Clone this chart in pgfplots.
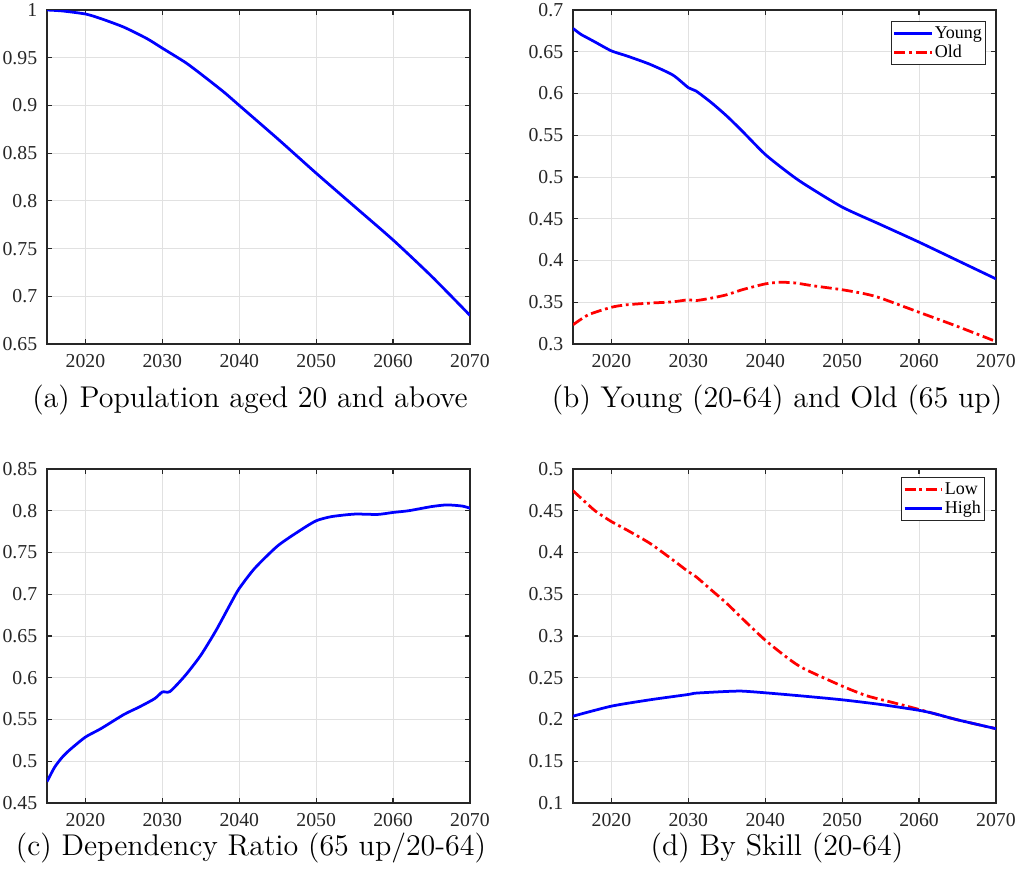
\documentclass[border=0pt]{standalone}
\usepackage{pgfplots}
\pgfplotsset{compat=1.18}
\usepackage{fontspec}
\newfontfamily\tnr{Liberation Serif}
\newcommand\tkfont{\tnr\fontsize{7.9}{9}\selectfont}
\definecolor{axgray}{RGB}{38,38,38}
\definecolor{gridgray}{RGB}{225,225,225}
\pgfplotsset{
  panel/.style={
    scale only axis, width=169.2pt, height=133.6pt,
    xmin=2015, xmax=2070, xtick={2020,2030,2040,2050,2060,2070},
    grid=major, major grid style={color=gridgray, line width=0.4pt},
    axis line style={color=axgray, line width=0.5pt},
    tick style={color=axgray, line width=0.5pt},
    tick align=inside, major tick length=2pt,
    /pgf/number format/assume math mode=true,
    xticklabel={\tkfont\pgfmathprintnumber[assume math mode=true,1000 sep={}]{\tick}},
    yticklabel={\tkfont\pgfmathprintnumber[assume math mode=true,fixed]{\tick}},
    tick label style={font=\tkfont, text=axgray},
    xticklabel style={yshift=-0.6pt},
    yticklabel style={xshift=-0.4pt},
    legend cell align=left,
    legend style={font=\tnr\fontsize{7.2}{8}\selectfont, draw=axgray, line width=0.4pt,
      inner sep=0.8pt, row sep=0pt,
      nodes={inner sep=0.6pt, text height=5.2pt, text depth=1.4pt}},
    legend image code/.code={\draw[#1] (0pt,0pt) -- (15pt,0pt);},
  },
  bl/.style={color=blue, line width=1.1pt, smooth, tension=0.4},
  rd/.style={color=red, line width=1.1pt, dash pattern=on 4.4pt off 1.5pt on 1.1pt off 1.5pt, smooth, tension=0.4},
}
\begin{document}
\begin{tikzpicture}
\useasboundingbox (0,0) rectangle (407.2pt,-351.2pt);
% (a)
\begin{axis}[panel, at={(18.8pt,-4pt)}, anchor=north west,
  ymin=0.65, ymax=1, ytick={0.65,0.7,0.75,0.8,0.85,0.9,0.95,1}]
\addplot[bl] coordinates {
(2015,1.000) (2017,0.999) (2020,0.9958) (2022,0.991) (2025,0.982) (2028,0.970)
(2030,0.960) (2033,0.945) (2035,0.933) (2038,0.914) (2040,0.900) (2045,0.865)
(2050,0.829) (2055,0.794) (2060,0.759) (2065,0.721) (2070,0.680)};
\end{axis}
% (b)
\begin{axis}[panel, at={(229.2pt,-4pt)}, anchor=north west,
  ymin=0.3, ymax=0.7, ytick={0.3,0.35,0.4,0.45,0.5,0.55,0.6,0.65,0.7},
  legend style={at={(1,1)}, anchor=north east, xshift=-4pt, yshift=-4.4pt}]
\addplot[bl] coordinates {
(2015,0.678) (2016,0.671) (2017,0.666) (2018,0.661) (2020,0.651) (2022,0.645)
(2025,0.635) (2028,0.622) (2030,0.607) (2031,0.603) (2033,0.589) (2035,0.573)
(2037,0.555) (2040,0.527) (2043,0.505) (2045,0.492) (2050,0.464) (2055,0.443)
(2060,0.422) (2065,0.400) (2070,0.378)};
\addlegendentry{Young}
\addplot[rd] coordinates {
(2015,0.323) (2017,0.335) (2020,0.344) (2022,0.347) (2025,0.349) (2028,0.3505)
(2030,0.353) (2031,0.352) (2033,0.355) (2035,0.359) (2037,0.365) (2040,0.372)
(2042,0.374) (2044,0.373) (2046,0.370) (2050,0.365) (2053,0.360) (2055,0.355)
(2060,0.338) (2065,0.321) (2070,0.303)};
\addlegendentry{Old}
\end{axis}
% (c)
\begin{axis}[panel, at={(18.8pt,-187.6pt)}, anchor=north west,
  ymin=0.45, ymax=0.85, ytick={0.45,0.5,0.55,0.6,0.65,0.7,0.75,0.8,0.85}]
\addplot[bl] coordinates {
(2015,0.4756) (2016,0.493) (2017,0.505) (2018,0.514) (2020,0.529) (2022,0.539)
(2025,0.556) (2027,0.565) (2029,0.575) (2030,0.583) (2031,0.5836) (2033,0.603)
(2035,0.627) (2037,0.657) (2039,0.691) (2040,0.707) (2042,0.731) (2045,0.758)
(2048,0.777) (2050,0.788) (2052,0.793) (2055,0.796) (2058,0.7956) (2060,0.798)
(2062,0.800) (2065,0.805) (2067,0.807) (2069,0.8056) (2070,0.803)};
\end{axis}
% (d)
\begin{axis}[panel, at={(229.2pt,-187.6pt)}, anchor=north west,
  ymin=0.1, ymax=0.5, ytick={0.1,0.15,0.2,0.25,0.3,0.35,0.4,0.45,0.5},
  legend style={at={(1,1)}, anchor=north east, xshift=-4.4pt, yshift=-3.2pt}]
\addplot[rd] coordinates {
(2015,0.474) (2017,0.457) (2018,0.449) (2020,0.437) (2022,0.427) (2025,0.411)
(2028,0.391) (2030,0.377) (2031,0.371) (2033,0.355) (2035,0.339) (2037,0.321)
(2040,0.295) (2043,0.273) (2045,0.261) (2050,0.240) (2053,0.229) (2055,0.224)
(2058,0.217) (2060,0.212) (2062,0.207) (2065,0.1996) (2070,0.189)};
\addlegendentry{Low}
\addplot[bl] coordinates {
(2015,0.204) (2020,0.216) (2025,0.2236) (2030,0.230) (2031,0.2316) (2035,0.2336)
(2037,0.234) (2040,0.232) (2045,0.228) (2050,0.2236) (2055,0.218) (2060,0.211)
(2062,0.207) (2065,0.1996) (2070,0.189)};
\addlegendentry{High}
\end{axis}
% captions
\node[font=\fontsize{12}{14}\selectfont] at (100pt,-160pt) {(a) Population aged 20 and above};
\node[font=\fontsize{12}{14}\selectfont] at (310.8pt,-160pt) {(b) Young (20-64) and Old (65 up)};
\node[font=\fontsize{12}{14}\selectfont] at (100.4pt,-339.2pt) {(c) Dependency Ratio (65 up/20-64)};
\node[font=\fontsize{12}{14}\selectfont] at (310.8pt,-339.2pt) {(d) By Skill (20-64)};
\end{tikzpicture}
\end{document}
